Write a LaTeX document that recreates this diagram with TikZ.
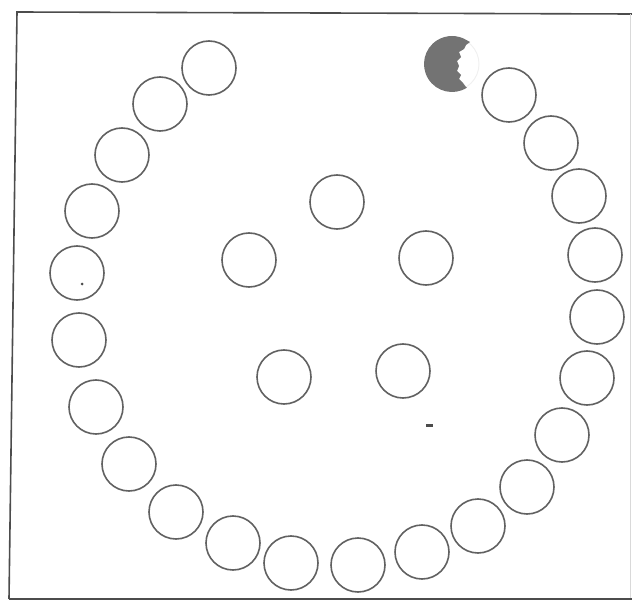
\documentclass[tikz,border=0pt]{standalone}
\begin{document}
\begin{tikzpicture}[x=1pt,y=-1pt,
  ring/.style={circle, draw=black!62, line width=1.6pt, minimum size=54pt, inner sep=0pt},
  frame/.style={draw=black!70, line width=1.6pt}]
\useasboundingbox (0,0) rectangle (632,604);
% frame
\draw[frame] (9,599) -- (17,12) -- (632,14);
\draw[frame] (9,599) -- (632,599);
\draw[draw=black!15, line width=0.8pt] (630,14) -- (630,598);
% outer ring
\foreach \n/\x/\y in {1/209/68, 2/160/104, 3/122/155, 4/92/211, 5/77/273, 6/79/340,
  7/96/407, 8/129/464, 9/176/512, 10/233/543, 11/291/563, 12/358/565,
  13/422/552, 14/478/526, 15/527/487, 16/562/435, 17/587/378, 18/597/317,
  19/595/255, 20/579/196, 21/551/143, 22/509/95}
  \node[ring] (o\n) at (\x,\y) {};
% inner circles
\foreach \n/\x/\y in {1/337/202, 2/249/260, 3/426/258, 4/284/377, 5/403/371}
  \node[ring] (i\n) at (\x,\y) {};
% gray crescent
\node[circle, minimum size=56pt, inner sep=0pt] (cr) at (452,64) {};
\draw[black!6, line width=1pt] (cr) circle[radius=27];
\fill[black!55] (cr) ++(58:28) arc[start angle=58, end angle=302, radius=28]
  -- (470,42) -- (466,45) -- (464,49) -- (459,52) -- (461,57) -- (457,61)
  -- (459,66) -- (457,71) -- (461,75) -- (459,79) -- (463,83) -- (466,87) -- cycle;
% specks
\fill[black!70] (82,284) circle[radius=1.5];
\fill[black!70] (426,424) rectangle (433,427);
\end{tikzpicture}
\end{document}
